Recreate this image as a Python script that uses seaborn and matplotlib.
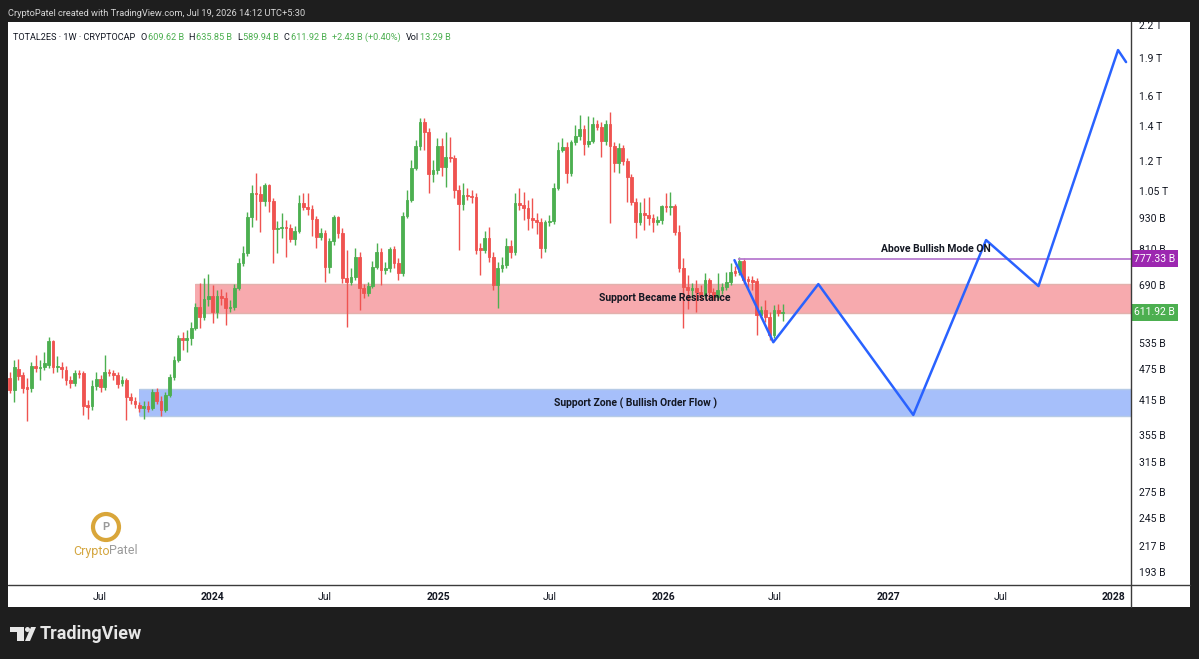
"""
TOTAL2ES 1W chart - TradingView style recreation
"""
import matplotlib
matplotlib.use("Agg")
import matplotlib.pyplot as plt
import matplotlib.dates as mdates
import matplotlib.transforms as mtransforms
from matplotlib.patches import Rectangle, Ellipse, Polygon
from matplotlib.lines import Line2D
from matplotlib.ticker import NullLocator, NullFormatter
import numpy as np
import pandas as pd
import seaborn as sns

# ---- data (billions USD) ----
first_week = "2023-02-06"

opens = [457, 433, 476, 463, 439, 437, 482, 478, 480, 484,
         539, 480, 480, 474, 453, 447, 467, 467, 406, 404,
         441, 455, 439, 469, 467, 463, 447, 453, 420, 413,
         406, 400, 404, 400, 430, 413, 397, 424, 459, 495,
         546, 541, 546, 571, 627, 599, 649, 658, 613, 658,
         652, 624, 627, 682, 762, 797, 936, 1040, 1035, 1004,
         1078, 1004, 886, 890, 894, 890, 848, 878, 995, 978,
         969, 927, 856, 871, 749, 840, 936, 871, 713, 700,
         716, 783, 682, 667, 688, 749, 800, 739, 745, 811,
         762, 729, 940, 1008, 1162, 1282, 1426, 1364, 1132, 1152,
         1282, 1168, 1221, 1216, 1054, 990, 1031, 1026, 1022, 815,
         807, 852, 783, 691, 745, 755, 822, 800, 995, 986,
         973, 932, 923, 914, 815, 914, 918, 1063, 1259, 1277,
         1137, 1305, 1340, 1382, 1294, 1311, 1413, 1395, 1311, 1413,
         1282, 1189, 1271, 1199, 1117, 1000, 914, 952, 944, 932,
         914, 923, 982, 978, 982, 875, 745, 685, 676, 682,
         670, 661, 707, 670, 655, 676, 685, 700, 735, 732,
         769, 710, 707, 704, 605, 618, 599, 553, 618, 609.62]

highs = [469, 495, 497, 469, 457, 491, 506, 495, 513, 549,
         541, 504, 491, 482, 461, 474, 474, 472, 415, 453,
         469, 463, 506, 476, 474, 469, 461, 457, 428, 420,
         411, 413, 413, 435, 437, 422, 430, 465, 504, 553,
         561, 566, 586, 638, 697, 713, 726, 691, 676, 679,
         670, 647, 694, 779, 822, 956, 1078, 1137, 1073, 1087,
         1083, 1017, 918, 952, 923, 906, 898, 1031, 1040, 1040,
         986, 940, 890, 882, 852, 944, 940, 890, 807, 745,
         815, 800, 694, 700, 769, 833, 815, 765, 818, 822,
         779, 956, 1054, 1205, 1317, 1451, 1451, 1388, 1205, 1328,
         1328, 1364, 1334, 1232, 1078, 1087, 1063, 1054, 1040, 833,
         878, 894, 800, 765, 783, 852, 844, 1040, 1063, 1045,
         1008, 1017, 952, 932, 923, 944, 1087, 1305, 1328, 1305,
         1317, 1407, 1471, 1407, 1464, 1458, 1439, 1426, 1439, 1491,
         1305, 1299, 1288, 1216, 1132, 1017, 1000, 1017, 1022, 948,
         940, 986, 1040, 1045, 990, 902, 779, 723, 697, 707,
         691, 729, 713, 682, 729, 697, 732, 762, 752, 783,
         779, 720, 720, 713, 630, 647, 613, 633, 635, 635.85]

lows = [428, 411, 453, 428, 378, 430, 469, 453, 474, 478,
        467, 469, 457, 443, 437, 441, 457, 388, 381, 397,
        433, 430, 433, 461, 453, 437, 441, 379, 407, 400,
        393, 381, 393, 397, 407, 386, 393, 420, 453, 491,
        518, 513, 529, 566, 571, 592, 630, 584, 597, 633,
        579, 613, 618, 676, 752, 786, 894, 923, 875, 982,
        956, 762, 797, 852, 783, 837, 825, 871, 965, 944,
        859, 815, 844, 700, 729, 825, 852, 697, 574, 691,
        707, 618, 652, 658, 682, 742, 691, 726, 732, 745,
        707, 720, 932, 1000, 1152, 1259, 1259, 1040, 1092, 1132,
        1122, 1068, 1194, 1017, 807, 965, 1008, 995, 793, 723,
        797, 765, 676, 624, 732, 745, 779, 790, 965, 923,
        882, 890, 867, 779, 800, 898, 906, 1054, 1248, 1087,
        1122, 1288, 1317, 1232, 1277, 1299, 1376, 1221, 1288, 910,
        1142, 1137, 1178, 1000, 986, 852, 902, 882, 902, 875,
        902, 906, 956, 944, 863, 732, 571, 621, 652, 613,
        647, 652, 647, 647, 647, 664, 676, 691, 720, 723,
        694, 682, 676, 553, 597, 586, 541, 546, 602, 589.94]

closes = [433, 480, 461, 437, 435, 482, 478, 480, 489, 539,
          480, 482, 476, 453, 447, 467, 465, 404, 402, 441,
          455, 439, 469, 467, 463, 445, 453, 420, 415, 407,
          400, 404, 398, 430, 413, 397, 424, 459, 495, 546,
          541, 546, 571, 627, 599, 649, 658, 613, 658, 652,
          624, 627, 682, 762, 797, 936, 1040, 1035, 1004, 1078,
          1004, 886, 890, 894, 890, 848, 878, 995, 978, 969,
          927, 856, 871, 749, 840, 936, 871, 713, 700, 716,
          783, 682, 667, 688, 749, 800, 739, 745, 811, 762,
          729, 940, 1008, 1162, 1282, 1426, 1364, 1132, 1152, 1282,
          1168, 1221, 1216, 1054, 990, 1031, 1026, 1022, 807, 807,
          852, 783, 691, 745, 755, 822, 800, 995, 986, 973,
          932, 923, 914, 815, 914, 918, 1063, 1259, 1277, 1137,
          1305, 1340, 1382, 1294, 1311, 1413, 1395, 1311, 1413, 1282,
          1189, 1271, 1199, 1117, 1000, 914, 952, 944, 932, 914,
          923, 982, 978, 982, 875, 745, 685, 676, 682, 670,
          661, 707, 670, 655, 676, 685, 700, 732, 729, 769,
          707, 704, 700, 605, 618, 599, 553, 618, 610, 611.92]

resistance_zone = [610, 694]
resistance_start = "2023-12-03"
support_zone = [386, 435]
support_start = "2023-09-03"
bull_level = 777.33
bull_start = "2026-05-02"

proj_dates = ["2026-04-26", "2026-06-28", "2026-09-09", "2027-02-10",
              "2027-06-08", "2027-09-01", "2028-01-08", "2028-01-21"]
proj_values = [772, 536, 694, 388, 844, 688, 1964, 1862]

price_ticks = [193, 217, 245, 275, 315, 355, 415, 475, 535, 690,
               810, 930, 1050, 1200, 1400, 1600, 1900, 2200]
price_labels = ["193 B", "217 B", "245 B", "275 B", "315 B", "355 B", "415 B",
                "475 B", "535 B", "690 B", "810 B", "930 B",
                "1.05 T", "1.2 T", "1.4 T", "1.6 T", "1.9 T", "2.2 T"]

time_ticks = ["2023-07-01", "2024-01-01", "2024-07-01", "2025-01-01", "2025-07-01",
              "2026-01-01", "2026-07-01", "2027-01-01", "2027-07-01", "2028-01-01"]
time_labels = ["Jul", "2024", "Jul", "2025", "Jul", "2026", "Jul", "2027", "Jul", "2028"]

x_range = ["2023-02-03", "2028-01-29"]
y_range = [182.2, 2225]

# ---- style ----
W, H, DPI = 1199, 659, 100
UP, DOWN = "#4caf50", "#ef5350"
TEXT = "#131722"
BG = "#1e1e1e"

sns.set_theme(style="white")
plt.rcParams["font.family"] = ["Roboto", "DejaVu Sans"]


def fx(px):
    return px / W


def fy(py):
    return 1 - py / H


fig = plt.figure(figsize=(W / DPI, H / DPI), dpi=DPI)
fig.patch.set_facecolor(BG)
renderer = fig.canvas.get_renderer()


def chain_text(x_px, y_px, parts, fontsize, zorder):
    """write text pieces one after another, (text, colour, gap_after_px)"""
    x = x_px
    for s, col, gap in parts:
        t = fig.text(fx(x), fy(y_px), s, color=col, fontsize=fontsize,
                     ha="left", va="center", zorder=zorder)
        x += t.get_window_extent(renderer).width + gap


fig.add_artist(Rectangle((fx(8), fy(607)), fx(1190) - fx(8), fy(22) - fy(607),
                         transform=fig.transFigure, facecolor="white",
                         edgecolor="none", zorder=-1))

ax = fig.add_axes([fx(8), fy(585), fx(1131) - fx(8), fy(22) - fy(585)])
ax.set_facecolor("white")
for s in ax.spines.values():
    s.set_visible(False)

ax.set_yscale("log")
x0, x1 = mdates.date2num(pd.to_datetime(x_range))
ax.set_xlim(x0, x1)
ax.set_ylim(*y_range)

# zones
rx = mdates.date2num(pd.Timestamp(resistance_start))
ax.fill_between([rx, x1], resistance_zone[0], resistance_zone[1],
                color="#f7aaae", lw=0, zorder=1)
ax.hlines(resistance_zone, rx, x1, color="#e2b1ad", lw=1, zorder=1)
sx = mdates.date2num(pd.Timestamp(support_start))
ax.fill_between([sx, x1], support_zone[0], support_zone[1],
                color="#a6bffa", lw=0, zorder=1)
ax.hlines(support_zone, sx, x1, color="#b6cbe6", lw=1, zorder=1)

# candles
weeks = mdates.date2num(pd.date_range(first_week, periods=len(closes), freq="7D"))
o = np.array(opens)
c = np.array(closes)
cols = np.where(c >= o, UP, DOWN)
ax.vlines(weeks, lows, highs, colors=cols, linewidth=1, zorder=3)
ax.bar(weeks, np.abs(c - o), bottom=np.minimum(o, c), width=4.4,
       color=cols, edgecolor=cols, linewidth=0.6, zorder=4)

# bullish level
bx = mdates.date2num(pd.Timestamp(bull_start))
ax.hlines(bull_level, bx, x1, color="#b77bd0", lw=1.3, zorder=5)

# projection path
px = mdates.date2num(pd.to_datetime(proj_dates))
sns.lineplot(x=px, y=proj_values, ax=ax, sort=False, estimator=None,
             color="#2962ff", linewidth=1.8, zorder=6)

# annotations
ax.text(mdates.date2num(pd.Timestamp("2026-01-03")), 652, "Support Became Resistance",
        ha="center", va="center", fontsize=7.5, fontweight="bold", color=TEXT, zorder=7)
ax.text(mdates.date2num(pd.Timestamp("2025-11-17")), 409, "Support Zone ( Bullish Order Flow )",
        ha="center", va="center", fontsize=7.5, fontweight="bold", color=TEXT, zorder=7)
ax.text(mdates.date2num(pd.Timestamp("2027-03-19")), 811, "Above Bullish Mode ON",
        ha="center", va="center", fontsize=7.5, fontweight="bold", color=TEXT, zorder=7)

# axes ticks
ax.set_yticks(price_ticks)
ax.set_yticklabels(price_labels)
ax.yaxis.set_minor_locator(NullLocator())
ax.yaxis.set_minor_formatter(NullFormatter())
ax.yaxis.tick_right()
ax.tick_params(axis="y", length=0, pad=6, labelsize=7.5, labelcolor=TEXT)

ax.set_xticks(mdates.date2num(pd.to_datetime(time_ticks)))
ax.set_xticklabels(time_labels)
ax.tick_params(axis="x", length=0, pad=5, labelsize=7.5, labelcolor=TEXT)
for lbl in ax.get_xticklabels():
    if lbl.get_text().isdigit():
        lbl.set_fontweight("bold")
ax.set_xlabel("")
ax.set_ylabel("")

# price badges
blend = mtransforms.blended_transform_factory(fig.transFigure, ax.transData)
for val, bg in [(bull_level, "#9c27b0"), (closes[-1], "#4caf50")]:
    ax.text(fx(1134), val, f"{val:.2f} B", transform=blend, ha="left", va="center",
            fontsize=7.5, color="white", zorder=20, clip_on=False,
            bbox=dict(boxstyle="square,pad=0.3", fc=bg, ec="none"))

# separators
fig.add_artist(Line2D([fx(1131), fx(1131)], [fy(22), fy(607)], color="#3b3b3b",
                      lw=1, transform=fig.transFigure, zorder=8))
fig.add_artist(Line2D([fx(8), fx(1190)], [fy(585), fy(585)], color="#3b3b3b",
                      lw=1, transform=fig.transFigure, zorder=8))

# top dark band and header
fig.add_artist(Rectangle((0, fy(22)), 1, 1 - fy(22), transform=fig.transFigure,
                         facecolor=BG, edgecolor="none", zorder=30))
fig.text(fx(8), fy(14), "CryptoPatel created with TradingView.com, Jul 19, 2026 14:12 UTC+5:30",
         color="#d6d6d6", fontsize=6.7, va="center", ha="left", zorder=31)

# legend line
GREEN = "#4caf50"
chain_text(13, 37, [("TOTAL2ES · 1W · CRYPTOCAP", TEXT, 5),
                    ("O", TEXT, 1), ("609.62 B", GREEN, 5),
                    ("H", TEXT, 1), ("635.85 B", GREEN, 5),
                    ("L", TEXT, 1), ("589.94 B", GREEN, 5),
                    ("C", TEXT, 1), ("611.92 B", GREEN, 5),
                    ("+2.43 B (+0.40%)", GREEN, 5),
                    ("Vol", TEXT, 1), ("13.29 B", GREEN, 0)], 6.6, 31)

# CryptoPatel watermark
fig.add_artist(Ellipse((fx(106), fy(527)), 26 / W, 26 / H, transform=fig.transFigure,
                       facecolor="none", edgecolor="#d9a63a", lw=3, zorder=9))
fig.text(fx(106), fy(527), "P", color="#9a9a9a", fontsize=8, fontweight="bold",
         ha="center", va="center", zorder=9)
chain_text(73, 551, [("Crypto", "#d4a63f", 0), ("Patel", "#9b9b9b", 0)], 9, 9)

# TradingView footer
fig.add_artist(Polygon([(fx(10), fy(627)), (fx(24), fy(627)), (fx(24), fy(641)),
                        (fx(17), fy(641)), (fx(17), fy(632)), (fx(10), fy(632))],
                       closed=True, transform=fig.transFigure, fc="#e6e6e6", ec="none", zorder=9))
fig.add_artist(Ellipse((fx(27.5), fy(629.5)), 5 / W, 5 / H, transform=fig.transFigure,
                       fc="#e6e6e6", ec="none", zorder=9))
fig.add_artist(Polygon([(fx(31), fy(627)), (fx(36), fy(627)), (fx(30), fy(641)), (fx(25), fy(641))],
                       closed=True, transform=fig.transFigure, fc="#e6e6e6", ec="none", zorder=9))
fig.text(fx(40), fy(634), "TradingView", color="#e6e6e6", fontsize=13, fontweight="bold",
         ha="left", va="center", zorder=9)

fig.savefig("out.png", dpi=DPI, facecolor=fig.get_facecolor())
